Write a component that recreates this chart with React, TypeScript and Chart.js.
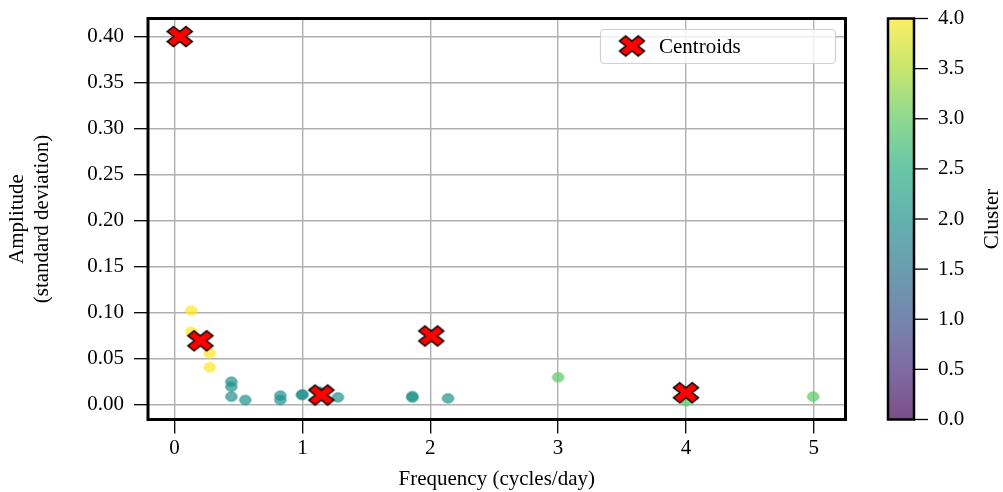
import React, { useEffect, useRef } from "react";
import { Chart, registerables } from "chart.js";

Chart.register(...registerables);

// ---- data ----
const cluster0Freq = [0.04];
const cluster0Amp = [0.4];
const cluster1Freq = [2.008];
const cluster1Amp = [0.0745];
const cluster2Freq = [0.444, 0.444, 0.444, 0.553, 0.827, 0.827, 0.996, 1.0, 1.13, 1.278, 1.86, 1.86, 2.139];
const cluster2Amp = [0.0248, 0.0193, 0.0085, 0.0049, 0.0096, 0.0049, 0.0103, 0.011, 0.014, 0.0078, 0.0092, 0.0075, 0.0067];
const cluster3Freq = [3.0, 4.0, 4.995];
const cluster3Amp = [0.0296, 0.0035, 0.0085];
const cluster4Freq = [0.13, 0.13, 0.274, 0.274];
const cluster4Amp = [0.102, 0.079, 0.0557, 0.0404];
const centroidFreq = [0.04, 0.202, 1.148, 2.008, 4.0];
const centroidAmp = [0.4, 0.0693, 0.0103, 0.0745, 0.0128];

const xTicks = [0, 1, 2, 3, 4, 5];
const yTicks = [0, 0.05, 0.1, 0.15, 0.2, 0.25, 0.3, 0.35, 0.4];
const cbTicks = [0, 0.5, 1, 1.5, 2, 2.5, 3, 3.5, 4];

const xLabel = "Frequency (cycles/day)";
const yLabel = ["Amplitude", "(standard deviation)"];
const cbLabel = "Cluster";
const legendLabel = "Centroids";

const viridisStops = ["#440154", "#472d7b", "#3b528b", "#2c728e", "#21918c", "#28ae80", "#5ec962", "#addc30", "#fde725"];

const FONT = '"Liberation Serif", "Times New Roman", Times, serif';
const FS = 21;

function hexToRgba(hex: string, a: number) {
  const n = parseInt(hex.slice(1), 16);
  return `rgba(${(n >> 16) & 255},${(n >> 8) & 255},${n & 255},${a})`;
}

function makeDot(hex: string, w: number, h: number) {
  const c = document.createElement("canvas");
  c.width = Math.ceil(w + 3);
  c.height = Math.ceil(h + 3);
  const ctx = c.getContext("2d")!;
  ctx.beginPath();
  ctx.ellipse(c.width / 2, c.height / 2, w / 2, h / 2, 0, 0, Math.PI * 2);
  ctx.fillStyle = hexToRgba(hex, 0.7);
  ctx.fill();
  ctx.lineWidth = 1;
  ctx.strokeStyle = hexToRgba(hex, 0.7);
  ctx.stroke();
  return c;
}

function makeX(w: number, h: number, lw: number) {
  const c = document.createElement("canvas");
  c.width = Math.ceil(w + 2 * lw + 2);
  c.height = Math.ceil(h + 2 * lw + 2);
  const ctx = c.getContext("2d")!;
  const verts = [
    [-1, -2], [0, -1], [1, -2], [2, -1], [1, 0], [2, 1],
    [1, 2], [0, 1], [-1, 2], [-2, 1], [-1, 0], [-2, -1],
  ];
  ctx.translate(c.width / 2, c.height / 2);
  ctx.beginPath();
  verts.forEach(([vx, vy], i) => {
    const px = (vx / 4) * w;
    const py = (vy / 4) * h;
    if (i === 0) ctx.moveTo(px, py);
    else ctx.lineTo(px, py);
  });
  ctx.closePath();
  ctx.fillStyle = "#ff0000";
  ctx.fill();
  ctx.lineWidth = lw;
  ctx.lineJoin = "miter";
  ctx.strokeStyle = "#000";
  ctx.stroke();
  return c;
}

function pts(xs: number[], ys: number[]) {
  return xs.map((x, i) => ({ x, y: ys[i] }));
}

function noPad(s: any) {
  s.paddingTop = 0;
  s.paddingBottom = 0;
  s.paddingLeft = 0;
  s.paddingRight = 0;
}

export default function App() {
  const ref = useRef<HTMLCanvasElement>(null);

  useEffect(() => {
    if (!ref.current) return;
    const xMarker = makeX(25, 20, 1.5);
    const dotW = 11.5;
    const dotH = 9.5;

    const decor = {
      id: "decor",
      afterDraw(chart: any) {
        const { ctx, chartArea: ca } = chart;
        ctx.save();
        // spines
        ctx.lineWidth = 3;
        ctx.strokeStyle = "#000";
        ctx.strokeRect(ca.left, ca.top, ca.right - ca.left, ca.bottom - ca.top);

        // legend
        const lx = 600.5, ly = 29.5, lw = 235, lh = 34, r = 4;
        ctx.beginPath();
        ctx.moveTo(lx + r, ly);
        ctx.lineTo(lx + lw - r, ly);
        ctx.arcTo(lx + lw, ly, lx + lw, ly + r, r);
        ctx.lineTo(lx + lw, ly + lh - r);
        ctx.arcTo(lx + lw, ly + lh, lx + lw - r, ly + lh, r);
        ctx.lineTo(lx + r, ly + lh);
        ctx.arcTo(lx, ly + lh, lx, ly + lh - r, r);
        ctx.lineTo(lx, ly + r);
        ctx.arcTo(lx, ly, lx + r, ly, r);
        ctx.closePath();
        ctx.fillStyle = "rgba(255,255,255,0.8)";
        ctx.fill();
        ctx.lineWidth = 1.2;
        ctx.strokeStyle = "rgba(204,204,204,0.9)";
        ctx.stroke();
        ctx.drawImage(xMarker, 632 - xMarker.width / 2, 46 - xMarker.height / 2);
        ctx.fillStyle = "#000";
        ctx.font = `${FS}px ${FONT}`;
        ctx.textAlign = "left";
        ctx.textBaseline = "middle";
        ctx.fillText(chart.data.datasets[0].label, 659, 47);

        // colorbar
        const cb = chart.scales.cb;
        const yTop = cb.getPixelForValue(cbTicks[cbTicks.length - 1]);
        const yBot = cb.getPixelForValue(cbTicks[0]);
        const bx = ca.right + 42.5;
        const bw = 26;
        ctx.fillStyle = "#fff";
        ctx.fillRect(bx, yTop, bw, yBot - yTop);
        const g = ctx.createLinearGradient(0, yBot, 0, yTop);
        viridisStops.forEach((c, i) => g.addColorStop(i / (viridisStops.length - 1), c));
        ctx.globalAlpha = 0.7;
        ctx.fillStyle = g;
        ctx.fillRect(bx, yTop, bw, yBot - yTop);
        ctx.globalAlpha = 1;
        ctx.lineWidth = 2.5;
        ctx.strokeStyle = "#000";
        ctx.strokeRect(bx, yTop, bw, yBot - yTop);
        ctx.lineWidth = 1.3;
        cb.ticks.forEach((t: any) => {
          const y = cb.getPixelForValue(t.value);
          ctx.beginPath();
          ctx.moveTo(bx + bw, y);
          ctx.lineTo(bx + bw + 14, y);
          ctx.stroke();
        });
        // colorbar label
        ctx.translate(992, (yTop + yBot) / 2);
        ctx.rotate(-Math.PI / 2);
        ctx.textAlign = "center";
        ctx.textBaseline = "middle";
        ctx.fillStyle = "#000";
        ctx.fillText(cbLabel, 0, 0);
        ctx.restore();
      },
    };

    const tickFont = { family: FONT, size: FS };

    const chart = new Chart(ref.current, {
      type: "scatter",
      data: {
        datasets: [
          { label: legendLabel, data: pts(centroidFreq, centroidAmp), pointStyle: xMarker as any, pointRadius: 13 },
          { label: "Cluster 0", data: pts(cluster0Freq, cluster0Amp), pointStyle: makeDot(viridisStops[0], dotW, dotH) as any },
          { label: "Cluster 1", data: pts(cluster1Freq, cluster1Amp), pointStyle: makeDot(viridisStops[2], dotW, dotH) as any },
          { label: "Cluster 2", data: pts(cluster2Freq, cluster2Amp), pointStyle: makeDot(viridisStops[4], dotW, dotH) as any },
          { label: "Cluster 3", data: pts(cluster3Freq, cluster3Amp), pointStyle: makeDot(viridisStops[6], dotW, dotH) as any },
          { label: "Cluster 4", data: pts(cluster4Freq, cluster4Amp), pointStyle: makeDot(viridisStops[8], dotW, dotH) as any },
        ],
      },
      options: {
        responsive: false,
        animation: false,
        events: [],
        layout: { autoPadding: false, padding: { top: 18.5, left: 0, right: 0, bottom: 0 } },
        plugins: { legend: { display: false }, tooltip: { enabled: false } },
        scales: {
          x: {
            type: "linear",
            min: -0.208,
            max: 5.248,
            afterBuildTicks: (s: any) => { s.ticks = xTicks.map((v) => ({ value: v })); },
            afterFit: (s: any) => { s.height = 72.5; noPad(s); },
            border: { display: false },
            grid: { color: "#b0b0b0", lineWidth: 1.4, tickColor: "#000", tickLength: 14, tickWidth: 1.3 },
            ticks: { color: "#000", font: tickFont, padding: 2, maxRotation: 0, callback: (v: any) => String(v) },
            title: { display: true, text: xLabel, color: "#000", font: tickFont, padding: { top: 0, bottom: 0 } },
          },
          y: {
            type: "linear",
            min: -0.0163,
            max: 0.4196,
            afterBuildTicks: (s: any) => { s.ticks = yTicks.map((v) => ({ value: v })); },
            afterFit: (s: any) => { s.width = 148; noPad(s); },
            border: { display: false },
            grid: { color: "#b0b0b0", lineWidth: 1.4, tickColor: "#000", tickLength: 14, tickWidth: 1.3 },
            ticks: { color: "#000", font: tickFont, padding: 10, callback: (v: any) => Number(v).toFixed(2) },
            title: { display: true, text: yLabel, color: "#000", font: tickFont, padding: { top: 5, bottom: 0 } },
          },
          cb: {
            type: "linear",
            position: "right",
            min: 0,
            max: 4,
            afterBuildTicks: (s: any) => { s.ticks = cbTicks.map((v) => ({ value: v })); },
            afterFit: (s: any) => { s.width = 157.5; noPad(s); },
            border: { display: false },
            grid: { display: false, drawTicks: false, drawOnChartArea: false },
            ticks: { color: "#000", font: tickFont, padding: 92.5, callback: (v: any) => Number(v).toFixed(1) },
          },
        },
      },
      plugins: [decor],
    } as any);

    return () => chart.destroy();
  }, []);

  return (
    <div style={{ position: "absolute", left: 0, top: 0, width: 1003, height: 492, background: "#fff" }}>
      <canvas ref={ref} width={1003} height={492} style={{ display: "block", width: 1003, height: 492 }} />
    </div>
  );
}
